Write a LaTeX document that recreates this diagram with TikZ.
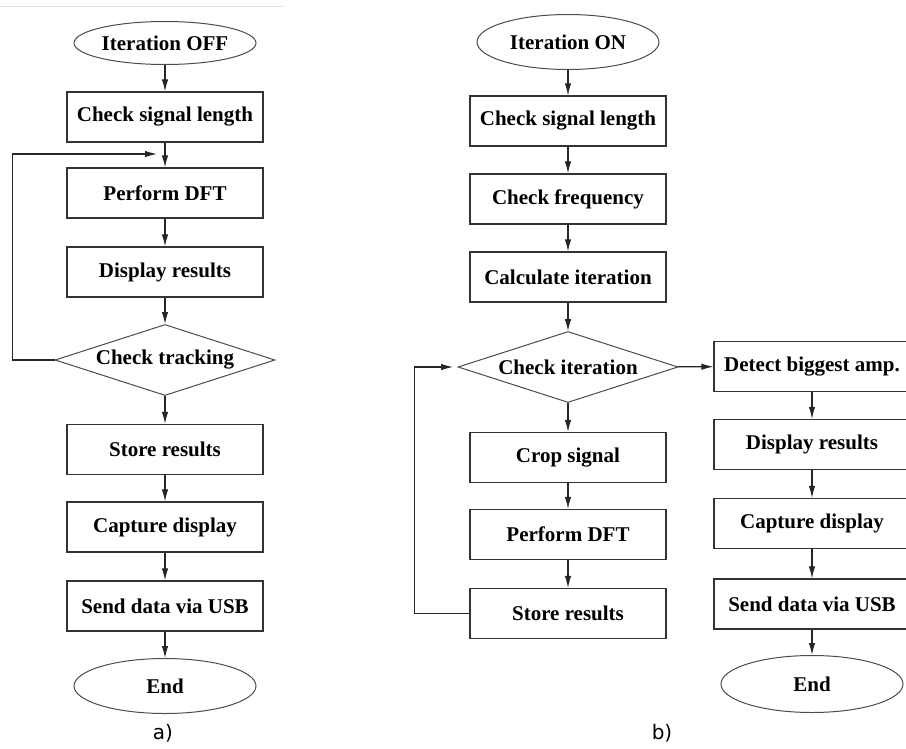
\documentclass[tikz,border=0pt]{standalone}
\usepackage{fontspec}
\setmainfont{Liberation Serif}
\newfontfamily\labelfont{DejaVu Sans}
\usetikzlibrary{shapes.geometric,arrows.meta}
\definecolor{faint}{RGB}{220,228,238}
\begin{document}
\begin{tikzpicture}[x=1pt,y=-1pt,
  txt/.style={font=\bfseries\fontsize{21}{24}\selectfont},
  box/.style={txt, draw=black!80, line width=1.2pt, minimum width=196pt, minimum height=50pt, inner sep=0pt},
  term/.style={txt, ellipse, draw=black!70, line width=1pt, inner sep=0pt, minimum width=182pt},
  dec/.style={txt, diamond, draw=black!70, line width=1pt, aspect=3, inner sep=0pt, minimum width=220pt, minimum height=71pt},
  arr/.style={draw=black!85, line width=1.1pt, -{Latex[length=12pt,width=6.5pt]}},
  sublabel/.style={font=\labelfont\fontsize{20}{24}\selectfont, inner sep=0pt}
]
\useasboundingbox (0,0) rectangle (906,748);
\clip (0,0) rectangle (906,748);
\draw[faint, line width=1pt] (0,6) -- (284,6);

% ---------- a) ----------
\node[term, minimum height=43pt] (a0) at (165,43) {Iteration OFF};
\node[box] (a1) at (165,117) {Check signal length};
\node[box] (a2) at (165,193) {Perform DFT};
\node[box] (a3) at (165,272) {Display results};
\node[dec] (a4) at (165,360) {Check tracking};
\node[box] (a5) at (165,449.5) {Store results};
\node[box] (a6) at (165,527) {Capture display};
\node[box] (a7) at (165,606) {Send data via USB};
\node[term, minimum height=55pt] (a8) at (165,686) {End};
\node[sublabel] (la) at (163,733) {a)};
\coordinate (j1) at (157,154);

\draw[arr] (a0) -- (a1);
\draw[arr] (a1) -- (a2);
\draw[arr] (a2) -- (a3);
\draw[arr] (a3) -- (a4);
\draw[arr] (a4) -- (a5);
\draw[arr] (a5) -- (a6);
\draw[arr] (a6) -- (a7);
\draw[arr] (a7) -- (a8);
\draw[arr] (a4.west) -- ++(-42,0) |- (j1);

% ---------- b) ----------
\node[term, minimum height=55pt] (b0) at (568,42) {Iteration ON};
\node[box] (b1) at (568,121) {Check signal length};
\node[box] (b2) at (568,199) {Check frequency};
\node[box] (b3) at (568,277) {Calculate iteration};
\node[dec] (b4) at (568,367) {Check iteration};
\node[box] (b5) at (568,457.5) {Crop signal};
\node[box] (b6) at (568,534.5) {Perform DFT};
\node[box] (b7) at (568,613.5) {Store results};
\node[box] (c1) at (812,366.5) {Detect biggest amp.};
\node[box] (c2) at (812,444.5) {Display results};
\node[box] (c3) at (812,523.5) {Capture display};
\node[box] (c4) at (812,604) {Send data via USB};
\node[term, minimum height=57pt] (c5) at (812,684) {End};
\node[sublabel] (lb) at (662,733) {b)};
\coordinate (j2) at (453,367);

\draw[arr] (b0) -- (b1);
\draw[arr] (b1) -- (b2);
\draw[arr] (b2) -- (b3);
\draw[arr] (b3) -- (b4);
\draw[arr] (b4) -- (b5);
\draw[arr] (b5) -- (b6);
\draw[arr] (b6) -- (b7);
\draw[arr] (b4) -- (c1);
\draw[arr] (c1) -- (c2);
\draw[arr] (c2) -- (c3);
\draw[arr] (c3) -- (c4);
\draw[arr] (c4) -- (c5);
\draw[arr] (b7.west) -- ++(-55,0) |- (j2);
\end{tikzpicture}
\end{document}
